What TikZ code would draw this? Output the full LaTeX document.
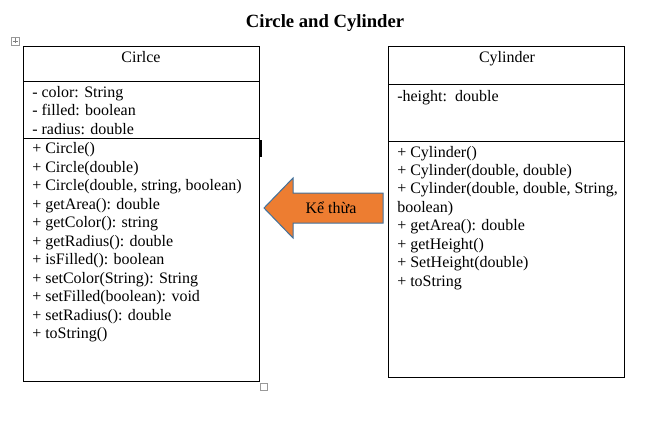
\documentclass[tikz,border=0pt]{standalone}
\usepackage{fontspec}
\setmainfont{Liberation Serif}
\begin{document}
\begin{tikzpicture}[x=0.75pt,y=-0.75pt,
  txt/.style={anchor=base west,inner sep=0pt,font=\fontsize{12}{14}\selectfont},
  ctxt/.style={anchor=base,inner sep=0pt,font=\fontsize{12}{14}\selectfont},
  boxline/.style={draw=black,line width=0.75pt},
  handle/.style={draw=gray!80,line width=0.5pt,fill=white}]
\useasboundingbox (0,0) rectangle (648,424);
% title
\node[anchor=base,inner sep=0pt,font=\fontsize{14}{16}\selectfont\bfseries] (title) at (325,28) {Circle and Cylinder};
% word handles
\draw[handle] (11,37) rectangle (19,45);
\draw[gray,line width=0.4pt] (15,38.5) -- (15,43.5) (12.5,41) -- (17.5,41);
\draw[handle] (260,383) rectangle (267,390);
\draw[black,line width=0.8pt] (261,140) -- (261,157);
% Circle box
\draw[boxline] (23,47) rectangle (259,381);
\draw[boxline] (23,82) -- (259,82);
\draw[boxline] (23,138) -- (259,138);
\node[ctxt] (cname) at (141,63) {Cirlce};
\node[txt] (ca1) at (32,98) {- color: String};
\node[txt] (ca2) at (32,116) {- filled: boolean};
\node[txt] (ca3) at (32,134) {- radius: double};
\node[txt] (cm1) at (32,153) {+ Circle()};
\node[txt] (cm2) at (32,172) {+ Circle(double)};
\node[txt] (cm3) at (32,190) {+ Circle(double, string, boolean)};
\node[txt] (cm4) at (32,209) {+ getArea(): double};
\node[txt] (cm5) at (32,227) {+ getColor(): string};
\node[txt] (cm6) at (32,246) {+ getRadius(): double};
\node[txt] (cm7) at (32,264) {+ isFilled(): boolean};
\node[txt] (cm8) at (32,283) {+ setColor(String): String};
\node[txt] (cm9) at (32,301) {+ setFilled(boolean): void};
\node[txt] (cm10) at (32,320) {+ setRadius(): double};
\node[txt] (cm11) at (32,338) {+ toString()};
% Cylinder box
\draw[boxline] (388,47) rectangle (624,377);
\draw[boxline] (388,85) -- (624,85);
\draw[boxline] (388,141) -- (624,141);
\node[ctxt] (yname) at (507,63) {Cylinder};
\node[txt] (ya1) at (397,102) {-height:\ \ double};
\node[txt] (ym1) at (397,157) {+ Cylinder()};
\node[txt] (ym2) at (397,175) {+ Cylinder(double, double)};
\node[txt] (ym3) at (397,193) {+ Cylinder(double, double, String,};
\node[txt] (ym3b) at (397,212) {boolean)};
\node[txt] (ym4) at (397,230) {+ getArea(): double};
\node[txt] (ym5) at (397,249) {+ getHeight()};
\node[txt] (ym6) at (397,267) {+ SetHeight(double)};
\node[txt] (ym7) at (397,286) {+ toString};
% inheritance arrow
\draw[draw={rgb,255:red,65;green,113;blue,156},fill={rgb,255:red,237;green,125;blue,49},line width=0.75pt,line join=miter]
  (264,208) -- (293,178) -- (293,193) -- (383,193) -- (383,223) -- (293,223) -- (293,238) -- cycle;
\node[ctxt] (arrlabel) at (331,213) {Kể thừa};
\end{tikzpicture}
\end{document}
